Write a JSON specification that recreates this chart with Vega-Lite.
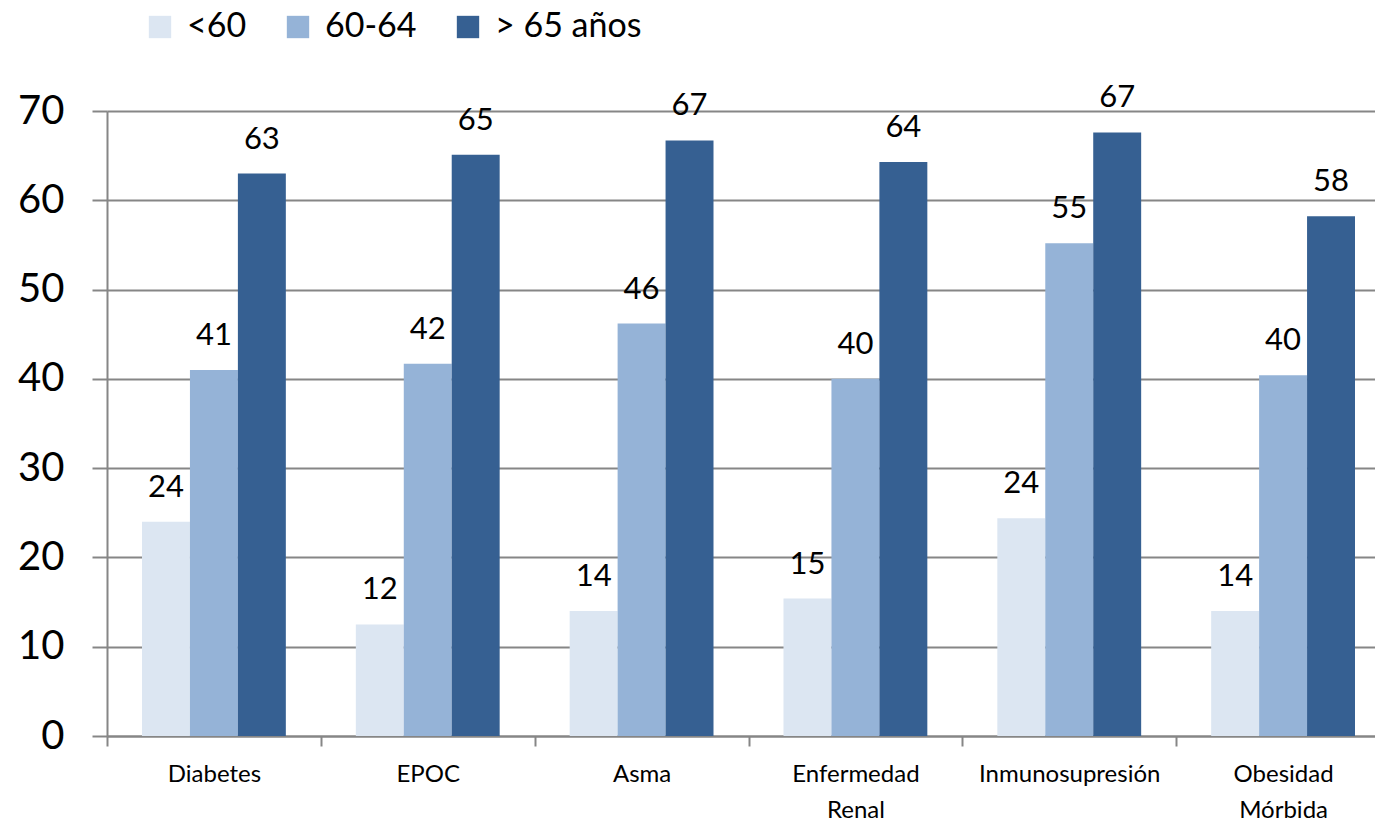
{
  "$schema": "https://vega.github.io/schema/vega-lite/v6.json",
  "width": 1268,
  "height": 625,
  "autosize": "none",
  "padding": {"left": 107, "top": 111, "right": 0, "bottom": 89},
  "background": "white",
  "config": {"view": {"stroke": null}, "font": "Lato"},
  "data": {
    "values": [
      {"cat": "Diabetes", "grp": "<60", "value": 24.0, "label": "24"},
      {"cat": "Diabetes", "grp": "60-64", "value": 41.0, "label": "41"},
      {"cat": "Diabetes", "grp": "> 65 años", "value": 63.0, "label": "63"},
      {"cat": "EPOC", "grp": "<60", "value": 12.5, "label": "12"},
      {"cat": "EPOC", "grp": "60-64", "value": 41.7, "label": "42"},
      {"cat": "EPOC", "grp": "> 65 años", "value": 65.1, "label": "65"},
      {"cat": "Asma", "grp": "<60", "value": 14.0, "label": "14"},
      {"cat": "Asma", "grp": "60-64", "value": 46.2, "label": "46"},
      {"cat": "Asma", "grp": "> 65 años", "value": 66.7, "label": "67"},
      {"cat": "Enfermedad Renal", "grp": "<60", "value": 15.4, "label": "15"},
      {"cat": "Enfermedad Renal", "grp": "60-64", "value": 40.0, "label": "40"},
      {"cat": "Enfermedad Renal", "grp": "> 65 años", "value": 64.3, "label": "64"},
      {"cat": "Inmunosupresión", "grp": "<60", "value": 24.4, "label": "24"},
      {"cat": "Inmunosupresión", "grp": "60-64", "value": 55.2, "label": "55"},
      {"cat": "Inmunosupresión", "grp": "> 65 años", "value": 67.6, "label": "67"},
      {"cat": "Obesidad Mórbida", "grp": "<60", "value": 14.0, "label": "14"},
      {"cat": "Obesidad Mórbida", "grp": "60-64", "value": 40.4, "label": "40"},
      {"cat": "Obesidad Mórbida", "grp": "> 65 años", "value": 58.2, "label": "58"}
    ]
  },
  "encoding": {
    "x": {
      "field": "cat",
      "type": "nominal",
      "sort": ["Diabetes", "EPOC", "Asma", "Enfermedad Renal", "Inmunosupresión", "Obesidad Mórbida"],
      "scale": {"range": [0, 1283], "paddingInner": 0, "paddingOuter": 0},
      "axis": {
        "title": null,
        "labelAngle": 0,
        "labelFontSize": 24,
        "labelColor": "black",
        "labelPadding": 16,
        "labelLineHeight": 36,
        "labelLimit": 0,
        "labelExpr": "datum.label == 'Enfermedad Renal' ? ['Enfermedad', 'Renal'] : datum.label == 'Obesidad Mórbida' ? ['Obesidad', 'Mórbida'] : datum.label",
        "tickBand": "extent",
        "tickSize": 10,
        "tickColor": "#868686",
        "tickWidth": 2,
        "domainColor": "#868686",
        "domainWidth": 2,
        "grid": false
      }
    },
    "xOffset": {
      "field": "grp",
      "type": "nominal",
      "sort": ["<60", "60-64", "> 65 años"],
      "scale": {"paddingInner": 0, "paddingOuter": 0.73}
    },
    "y": {
      "field": "value",
      "type": "quantitative",
      "scale": {"domain": [0, 70], "nice": false},
      "axis": {
        "title": null,
        "values": [0, 10, 20, 30, 40, 50, 60, 70],
        "labelFontSize": 40,
        "labelColor": "black",
        "labelPadding": 28,
        "tickSize": 15,
        "tickColor": "#868686",
        "tickWidth": 2,
        "domainColor": "#868686",
        "domainWidth": 2,
        "grid": true,
        "gridColor": "#868686",
        "gridWidth": 2
      }
    }
  },
  "layer": [
    {
      "mark": {"type": "bar"},
      "encoding": {
        "color": {
          "field": "grp",
          "type": "nominal",
          "sort": ["<60", "60-64", "> 65 años"],
          "scale": {"domain": ["<60", "60-64", "> 65 años"], "range": ["#DCE6F2", "#95B3D7", "#366092"]},
          "legend": {
            "title": null,
            "orient": "none",
            "legendX": 36,
            "legendY": -101,
            "direction": "horizontal",
            "symbolType": "square",
            "symbolSize": 500,
            "symbolStrokeWidth": 0,
            "symbolOpacity": 1,
            "labelFontSize": 34,
            "labelColor": "black",
            "labelOffset": 10,
            "columnPadding": 34
          }
        }
      }
    },
    {
      "mark": {"type": "text", "baseline": "bottom", "dy": -18, "fontSize": 31, "color": "black"},
      "encoding": {"text": {"field": "label"}}
    }
  ]
}
